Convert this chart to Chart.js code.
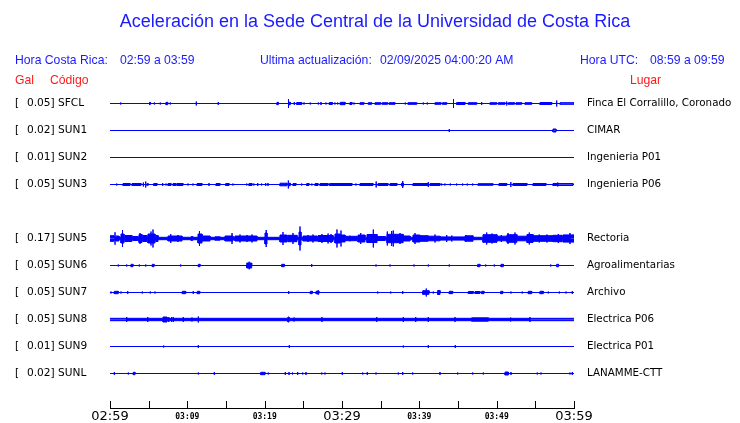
<!DOCTYPE html>
<html><head><meta charset="utf-8">
<script src="https://cdn.jsdelivr.net/npm/chart.js@4"></script>
<style>html,body{margin:0;padding:0;background:#fff;overflow:hidden}canvas{display:block}</style>
</head><body>
<canvas id="c" width="740" height="423"></canvas>
<script>
// ---- data ----
const codes  = ['SFCL','SUN1','SUN2','SUN3','SUN5','SUN6','SUN7','SUN8','SUN9','SUNL'];
const gals   = [0.05, 0.02, 0.01, 0.05, 0.17, 0.05, 0.05, 0.05, 0.01, 0.02];
const places = ['Finca El Corralillo, Coronado','CIMAR','Ingenieria P01','Ingenieria P06','Rectoria',
                'Agroalimentarias','Archivo','Electrica P06','Electrica P01','LANAMME-CTT'];
const slots  = [0,1,2,3,5,6,7,8,9,10];           // SUN4 slot is empty
const baseAmp = [0,0,0,0,1.2,0,0,1.2,0,0];       // continuous noise level

// envelope blocks: [start minute, end minute, half amplitude]; peaks: [minute, half amplitude]
const SFCL_blocks = [[5.11,5.2,1.2],[7.24,7.46,1.2],[21.59,21.76,1.2],[23.2,23.3,1.5],[24.14,24.79,1],[28.36,28.75,1],
 [29.78,30.39,1.2],[31.03,31.29,1],[32.33,32.84,0.8],[33.4,33.84,0.8],[34.27,35.0,0.8],[35.2,35.9,0.8],[36.1,36.85,0.8],
 [38.53,39.66,0.8],[42.03,42.8,0.8],[43.0,43.54,0.8],[44.83,45.91,1],[46.33,47.42,0.8],[49.14,50.0,0.8],[50.21,51.08,0.8],
 [51.51,52.3,0.8],[52.5,53.24,0.8],[53.66,54.53,0.8],[55.6,57.12,1],[58.19,60,0.8]];
const SFCL_peaks = [[1.38,1],[5.73,1],[6.5,1],[7.8,1],[11.16,2],[14.0,1.5],[23.08,4.5],[23.83,1.5],[25.09,1],[25.9,1],
 [26.94,1],[27.28,1.5],[27.93,1],[29.09,1],[29.44,1],[31.55,1],[38.18,1],[40.51,1],[41.03,1],[44.42,4.5],[48.06,1.5],
 [51.3,2],[57.76,3]];
const SUN1_blocks = [[57.28,57.67,1.5]];
const SUN1_peaks  = [[43.87,1.5]];
const SUN2_blocks = [];
const SUN2_peaks  = [];
const SUN3_blocks = [[1.68,2.59,1],[2.84,4.01,1],[4.78,4.95,0.8],[5.65,6.08,1],[7.5,7.89,1],[8.15,8.53,1],[8.66,9.44,1],
 [11.25,11.9,1],[13.71,14.22,1],[14.96,15.39,1],[17.97,18.36,1],[21.98,22.89,1.3],[23.2,23.3,1.5],[23.66,24.05,1],
 [25.44,25.73,1],[26.51,26.9,1],[27.16,28.2,1],[28.4,31.29,1],[32.33,34.01,1],[34.66,35.95,1],[36.21,37.11,1],
 [37.72,37.95,1.5],[39.18,41.1,1],[41.38,42.67,1],[47.59,49.52,0.8],[50.3,51.3,1],[52.11,53.92,1],[54.7,56.38,1],
 [57.28,59.87,1]];
const SUN3_peaks = [[0.87,1],[4.31,2],[4.62,3],[6.81,1.5],[7.24,1],[10.09,1],[10.73,1],[12.8,1.5],[15.9,1],[17.68,1],
 [18.6,1],[19.1,1.5],[19.6,1],[20.13,1.5],[20.43,1.5],[23.06,4],[24.79,1],[26.1,1],[31.8,1],[34.42,3],[37.85,3.5],
 [41.16,2.5],[42.89,1],[43.3,1],[44.0,1],[44.83,1],[45.6,1],[46.2,1],[46.9,1],[51.83,2.5],[57.9,2]];
const SUN5_blocks = [[0,0.52,2.8],[0.78,1.16,2.5],[1.42,1.81,4.5],[1.94,2.84,3],[2.97,3.62,2],[3.75,4.14,4],[4.27,4.78,3],
 [4.91,5.82,4.5],[5.95,6.21,3],[7.5,9.31,2.5],[10.5,10.7,2],[11.38,11.9,4.5],[11.9,12.93,2.5],[13.58,14.22,1.7],
 [14.87,15.9,2.5],[16.16,19.0,2.5],[20.04,20.3,5.5],[21.98,22.89,3.5],[23.02,24.18,3.2],[24.44,24.7,6.5],[24.96,26.77,2.5],
 [26.9,28.84,3],[29.09,29.74,4.5],[29.74,30.39,3.5],[30.39,31.94,2.2],[32.07,32.97,3.5],[33.23,34.53,4],[34.53,35.6,2],
 [35.82,37.9,4.2],[37.9,38.8,2.5],[39.18,40.09,3.5],[40.09,41.12,2.8],[41.12,42.67,2.3],[42.67,45.91,1.6],[45.91,46.94,2.7],
 [48.23,50.04,3.8],[50.04,51.34,2.3],[51.34,52.63,3.8],[52.76,53.92,2.3],[53.92,54.7,4],[54.7,57.28,2.8],[57.28,58.45,3.2],
 [58.58,60,3.6]];
const SUN5_peaks = [[0.65,6.2],[1.62,8.5],[3.88,5.5],[5.3,7],[5.56,9],[7.85,4.5],[8.79,3.5],[11.57,7.5],[15.78,5.5],
 [16.81,4],[17.72,3.5],[18.36,4],[20.2,8.5],[22.37,6.5],[23.66,5.5],[24.57,12],[25.6,3.5],[26.25,4],[27.41,4.5],[28.2,5],
 [28.58,4.5],[29.35,9],[29.87,8],[31.03,2.8],[32.42,5.5],[33.4,4.5],[34.05,9],[35.86,7],[36.42,7.5],[36.63,8],[37.5,5.5],
 [39.44,5.5],[42.03,4],[43.54,3.5],[44.2,3],[46.0,3.3],[48.71,6],[49.4,5],[50.6,3.5],[51.47,5.5],[52.37,6],[54.22,6],
 [55.5,4],[56.5,4],[57.97,4.5],[59.48,5.5]];
const SUN6_blocks = [[2.72,2.97,1.2],[5.47,5.69,1.2],[11.42,11.64,1.2],[17.68,18.32,2.5],[22.2,22.54,1.2],[47.55,47.84,1.2],
 [50.56,50.86,1.2],[57.76,58.0,1.2]];
const SUN6_peaks = [[1.07,1],[2.16,1],[3.79,1],[4.62,1],[9.14,1],[18.0,3.8],[26.08,1.5],[34.4,1],[36.21,1],[39.31,1],
 [41.16,1],[43.87,1],[48.58,1],[49.69,1],[56.99,1]];
const SUN7_blocks = [[0.56,1.07,1.2],[9.35,9.79,1.2],[11.29,11.6,1.2],[25.9,26.16,1.2],[26.64,27.03,1.2],[40.44,41.25,1.8],
 [42.37,42.67,2],[43.87,44.31,1.2],[46.33,46.98,1],[47.2,47.84,1],[48.06,48.36,1.2],[50.52,50.78,1.2],[54.09,54.53,1.2],
 [55.6,56.03,1.2]];
const SUN7_peaks = [[0.13,1],[1.42,1],[2.29,1.5],[4.18,1],[5.21,1],[5.82,1],[10.77,1.5],[23.11,1.5],[26.92,2.3],[34.62,1],
 [36.3,1],[37.85,1.5],[40.9,4],[41.81,1],[51.85,1],[53.31,1],[56.68,1],[58.1,1],[58.97,1],[59.78,1.5]];
const SUN8_blocks = [[6.85,7.37,2.5],[23.0,23.15,2.5],[46.77,48.92,1.7]];
const SUN8_peaks = [[2.16,2.5],[4.88,2.5],[7.6,2.5],[7.98,2.5],[8.2,2.5],[9.48,2.5],[10.6,2],[11.42,3],[23.8,2],[27.41,2.5],
 [34.49,2.5],[37.93,2.5],[39.53,2.5],[41.16,2.5],[44.61,2.5],[51.81,2],[54.31,2.5]];
const SUN9_blocks = [];
const SUN9_peaks = [[6.94,1],[11.42,1.5],[23.19,1.5],[37.93,1],[41.16,1.5],[44.65,1.5]];
const SUNL_blocks = [[3.01,3.23,1.2],[19.49,20.04,1.2],[51.08,51.51,1.5]];
const SUNL_peaks = [[0.56,1.5],[2.37,1],[11.42,1],[13.49,1.5],[20.47,1],[22.67,1.5],[23.15,1.5],[23.6,1],[24.27,1.5],
 [24.92,1],[25.34,1.5],[27.38,1],[27.8,1],[30.04,1.5],[32.68,1],[33.27,1.5],[34.4,1],[37.28,1],[37.85,1.5],[39.14,1],
 [42.67,1.5],[44.96,1],[46.9,1],[48.27,1],[51.85,1.5],[55.25,1],[55.73,1],[59.48,1],[59.78,1.5]];

const blocks = [SFCL_blocks,SUN1_blocks,SUN2_blocks,SUN3_blocks,SUN5_blocks,SUN6_blocks,SUN7_blocks,SUN8_blocks,SUN9_blocks,SUNL_blocks];
const peaks  = [SFCL_peaks,SUN1_peaks,SUN2_peaks,SUN3_peaks,SUN5_peaks,SUN6_peaks,SUN7_peaks,SUN8_peaks,SUN9_peaks,SUNL_peaks];

const tickMinutes = [0,10,20,30,40,50,60];
const tickLabels  = ['02:59','03:09','03:19','03:29','03:39','03:49','03:59'];
const majorLabels = ['02:59','03:29','03:59'];

// ---- build datasets ----
const ROW = 27, BLUE = '#0000ff';
const common = { borderColor: BLUE, backgroundColor: BLUE, borderWidth: 1, pointRadius: 0, tension: 0 };
const datasets = [];
blocks.forEach((segs, i) => {
  const base = -slots[i] * ROW, b = baseAmp[i];
  const up = [{x:0, y:base + b}], dn = [{x:0, y:base - b}];
  segs.forEach(([t0, t1, a]) => {
    up.push({x:t0,y:base+b},{x:t0,y:base+a},{x:t1,y:base+a},{x:t1,y:base+b});
    dn.push({x:t0,y:base-b},{x:t0,y:base-a},{x:t1,y:base-a},{x:t1,y:base-b});
  });
  up.push({x:60, y:base + b}); dn.push({x:60, y:base - b});
  datasets.push({...common, data: up, fill: {value: base}});
  datasets.push({...common, data: dn, fill: {value: base}});
  const pk = [];
  peaks[i].forEach(([t, a]) => {
    pk.push({x:t,y:base},{x:t,y:base+a},{x:t,y:base-a},{x:t,y:base});
  });
  if (pk.length) datasets.push({...common, data: pk, fill: false});
});

const TEXT_BLUE = '#1a1aff', TEXT_RED = '#ff1a1a';
const decor = {
  id: 'decor',
  afterDraw(chart) {
    const {ctx, scales: {x, y}} = chart;
    ctx.save();
    ctx.strokeStyle = '#000'; ctx.lineWidth = 1;
    x.ticks.forEach(t => {
      const px = Math.round(x.getPixelForValue(t.value)) + 0.5;
      ctx.beginPath(); ctx.moveTo(px, x.top - 7); ctx.lineTo(px, x.top + 1); ctx.stroke();
    });
    ctx.textBaseline = 'middle';
    ctx.fillStyle = TEXT_BLUE;
    ctx.font = '18px "Liberation Sans", Arial, sans-serif';
    ctx.textAlign = 'center';
    ctx.fillText('Aceleración en la Sede Central de la Universidad de Costa Rica', 375, 22);
    ctx.textAlign = 'left';
    ctx.font = '12.2px "Liberation Sans", Arial, sans-serif';
    ctx.fillText('Hora Costa Rica:', 15, 61);
    ctx.fillText('02:59 a 03:59', 120, 61);
    ctx.fillText('Ultima actualización:', 260, 61);
    ctx.fillText('02/09/2025 04:00:20 AM', 380, 61);
    ctx.fillText('Hora UTC:', 580, 61);
    ctx.fillText('08:59 a 09:59', 650, 61);
    ctx.fillStyle = TEXT_RED;
    ctx.fillText('Gal', 15, 81);
    ctx.fillText('Código', 50, 81);
    ctx.fillText('Lugar', 630, 81);
    ctx.fillStyle = '#000';
    codes.forEach((c, i) => {
      const py = y.getPixelForValue(-slots[i] * ROW);
      ctx.font = '10.6px "DejaVu Sans", sans-serif';
      ctx.fillText('[', 15, py);
      ctx.fillText(gals[i].toFixed(2) + ']', 27, py);
      ctx.fillText(c, 58, py);
      ctx.font = '10.3px "DejaVu Sans", sans-serif';
      ctx.fillText(places[i], 587, py);
    });
    ctx.restore();
  }
};

new Chart(document.getElementById('c'), {
  type: 'line',
  data: { datasets },
  options: {
    responsive: false, animation: false, devicePixelRatio: 1,
    layout: { padding: { left: 110, right: 166, top: 90, bottom: 0 } },
    plugins: { legend: {display: false}, tooltip: {enabled: false}, title: {display: false} },
    scales: {
      x: {
        type: 'linear', min: 0, max: 60, position: 'bottom',
        afterFit: s => { s.height = 15; },
        grid: { display: true, drawOnChartArea: false, drawTicks: false },
        border: { display: true, color: '#000', width: 1 },
        ticks: {
          stepSize: 5, autoSkip: false, maxRotation: 0, padding: 1.5, color: '#000',
          callback: v => { const i = tickMinutes.indexOf(v); return i < 0 ? '' : tickLabels[i]; },
          font: ctx => {
            const v = ctx.tick ? ctx.tick.value : 0;
            const i = tickMinutes.indexOf(v);
            return (i >= 0 && majorLabels.includes(tickLabels[i]))
              ? {family: '"DejaVu Sans"', size: 13, lineHeight: '14px'}
              : {family: '"DejaVu Sans Mono"', size: 8, weight: 'bold', lineHeight: '14px'};
          }
        }
      },
      y: { type: 'linear', min: -304.5, max: 13.5, display: false }
    }
  },
  plugins: [decor]
});
</script>
</body></html>
